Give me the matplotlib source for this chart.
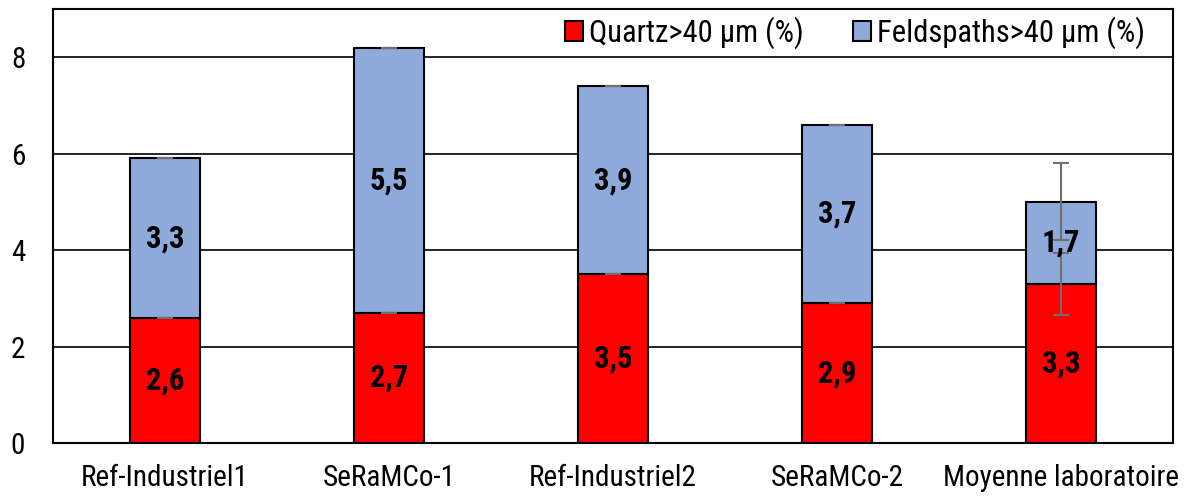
import matplotlib
matplotlib.use("Agg")
import matplotlib.pyplot as plt
import numpy as np

plt.rcParams['font.family'] = ['Roboto Condensed', 'Liberation Sans', 'DejaVu Sans']

samples = ['Ref-Industriel1', 'SeRaMCo-1', 'Ref-Industriel2', 'SeRaMCo-2', 'Moyenne laboratoire']
quartz = [2.6, 2.7, 3.5, 2.9, 3.3]
feldspaths = [3.3, 5.5, 3.9, 3.7, 1.7]
quartz_err = [0, 0, 0, 0, 0.65]
total_err = [0, 0, 0, 0, 0.8]

fig = plt.figure(figsize=(11.85, 4.97), dpi=100)
ax = fig.add_axes([0.0447, 0.1087, 0.9452, 0.8732])

x = np.arange(len(samples))
w = 0.31
top = np.array(quartz) + np.array(feldspaths)

# gridlines first so bars sit on top
ax.set_axisbelow(True)
ax.yaxis.grid(True, color='black', linewidth=1.2)

b1 = ax.bar(x, quartz, w, color='#ff0000', edgecolor='black', linewidth=1.5,
            label='Quartz>40 µm (%)', zorder=2)
b2 = ax.bar(x, feldspaths, w, bottom=quartz, color='#8eaadb', edgecolor='black',
            linewidth=1.5, label='Feldspaths>40 µm (%)', zorder=2)

ax.errorbar(x, quartz, yerr=quartz_err, fmt='none', ecolor='#707070',
            elinewidth=1.5, capsize=6, capthick=1.5, zorder=3)
ax.errorbar(x, top, yerr=total_err, fmt='none', ecolor='#707070',
            elinewidth=1.5, capsize=6, capthick=1.5, zorder=3)

for i in range(len(samples)):
    ax.text(x[i], quartz[i] / 2, f'{quartz[i]:.1f}'.replace('.', ','),
            ha='center', va='center', fontsize=22, fontweight='bold', zorder=4)
    ax.text(x[i], quartz[i] + feldspaths[i] / 2, f'{feldspaths[i]:.1f}'.replace('.', ','),
            ha='center', va='center', fontsize=22, fontweight='bold', zorder=4)

ax.set_xlim(-0.5, 4.5)
ax.set_ylim(0, 9)
ax.set_yticks([0, 2, 4, 6, 8])
ax.set_xticks(x)
ax.set_xticklabels(samples)
ax.tick_params(axis='both', length=0, labelsize=21)
ax.tick_params(axis='x', pad=15)
ax.tick_params(axis='y', pad=20)

for s in ax.spines.values():
    s.set_color('black')
    s.set_linewidth(1.5)

leg = ax.legend(handles=[b1, b2], loc='center right', bbox_to_anchor=(0.975, 0.945), ncol=2,
                borderaxespad=0, fontsize=22, frameon=False,
                handlelength=0.6, handleheight=0.6, handletextpad=0.2,
                columnspacing=1.6, borderpad=0)

fig.savefig('out.png', dpi=100)
